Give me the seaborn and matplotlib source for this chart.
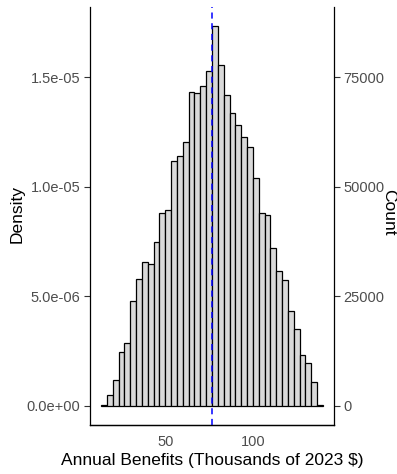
import seaborn as sns
import numpy as np
import matplotlib.pyplot as plt
import pandas as pd

## histogram counts (38 bins)
bin_start = 13.6
bin_width = 3.316
counts = [150, 2420, 5990, 12420, 14320, 23940, 29020, 32730, 32420, 37350,
          44010, 44770, 55990, 57120, 60300, 71670, 71290, 72880, 76440, 86670,
          77730, 70990, 66740, 64090, 61360, 59020, 52050, 44010, 43490, 35990,
          30830, 28710, 21740, 17500, 11670, 9770, 5450, 150]
mean_benefit = 76.8

# count = density * 5e9 (secondary axis scale)
scale = 5e9
density_ticks = [0, 5e-06, 1e-05, 1.5e-05]
density_labels = ["0.0e+00", "5.0e-06", "1.0e-05", "1.5e-05"]
count_ticks = [0, 25000, 50000, 75000]
x_ticks = [50, 100]

edges = bin_start + bin_width * np.arange(len(counts) + 1)
df = pd.DataFrame({"benefit": (edges[:-1] + edges[1:]) / 2, "count": counts})

sns.set_style("white")
plt.rcParams['font.family'] = ['Liberation Sans', 'DejaVu Sans']

fig = plt.figure(figsize=(3.97, 4.74), dpi=100)
ax = fig.add_axes([0.2267, 0.1034, 0.6146, 0.8818])
ax2 = ax.twinx()

sns.histplot(data=df, x="benefit", weights="count", bins=edges.tolist(), stat="count",
             color="#d9d9d9", edgecolor="black", linewidth=0.9, alpha=1, ax=ax2)
ax2.axvline(mean_benefit, color="blue", linestyle=(0, (4, 3)), linewidth=1.1)

cmax = max(counts)
ax2.set_ylim(-0.05 * cmax, 1.05 * cmax)
ax.set_ylim(-0.05 * cmax / scale, 1.05 * cmax / scale)
lo, hi = edges[0], edges[-1]
ax2.set_xlim(lo - 0.05 * (hi - lo), hi + 0.05 * (hi - lo))

ax.set_yticks(density_ticks)
ax.set_yticklabels(density_labels)
ax2.set_yticks(count_ticks)
ax2.set_yticklabels([str(c) for c in count_ticks])
ax2.set_xticks(x_ticks)

for a in (ax, ax2):
    a.tick_params(axis="both", length=4, width=0.8, color="#333333",
                  labelcolor="#4d4d4d", labelsize=10.5, pad=3)
    a.spines["top"].set_visible(False)
ax.spines["right"].set_visible(False)
ax2.spines["left"].set_visible(False)
ax2.spines["right"].set_visible(True)
for a in (ax, ax2):
    for s in a.spines.values():
        s.set_color("black")
        s.set_linewidth(0.9)
ax.tick_params(axis="y", left=True)
ax2.tick_params(axis="y", right=True)
ax2.tick_params(axis="x", bottom=True)

ax2.set_xlabel("")
ax.set_xlabel("Annual Benefits (Thousands of 2023 $)", fontsize=12.5, color="black")
ax.xaxis.set_label_coords(0.5, -0.067)
ax.set_ylabel("Density", fontsize=12.5, color="black")
ax.yaxis.set_label_coords(-0.266, 0.505)
ax2.set_ylabel("Count", fontsize=12.5, color="black", rotation=270, va="bottom")
ax2.yaxis.set_label_coords(1.195, 0.51)

plt.savefig("out.png", dpi=100)
